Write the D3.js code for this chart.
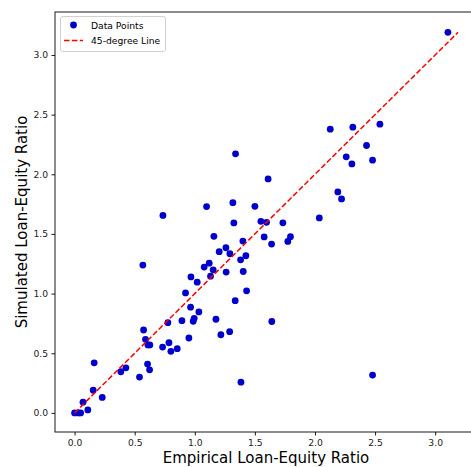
<!DOCTYPE html>
<html>
<head>
<meta charset="utf-8">
<script src="https://cdn.jsdelivr.net/npm/d3@7"></script>
<style>
  html, body { margin: 0; padding: 0; background: #fff; }
  svg { display: block; font-family: "DejaVu Sans", sans-serif; }
</style>
</head>
<body>
<svg id="chart" width="471" height="467"></svg>
<script>
// Empirical (x) and simulated (y) loan-equity ratios
const empirical = [
  0.00, 0.03, 0.05, 0.11, 0.07, 0.23, 0.155, 0.163, 0.385, 0.427,
  0.54, 0.574, 0.59, 0.61, 0.626, 0.607, 0.624, 0.732, 0.785, 0.801,
  0.854, 0.776, 0.893, 0.995, 0.987, 0.951, 1.034, 0.965, 1.176, 1.217,
  1.290, 1.336, 1.431, 0.923, 1.020, 0.968, 1.131, 1.153, 1.078, 1.120,
  1.261, 1.403, 0.568, 1.381, 1.425, 1.292, 1.203, 1.259, 1.400, 1.159,
  1.384, 1.641, 2.479, 0.735, 1.098, 1.317, 1.325, 1.339, 1.500, 1.550,
  1.597, 1.577, 1.639, 1.610, 1.733, 1.774, 1.796, 2.036, 2.190, 2.221,
  2.260, 2.307, 2.479, 2.429, 2.127, 2.315, 2.540, 3.106
];
const simulated = [
  0.00, 0.00, 0.00, 0.025, 0.09, 0.13, 0.19, 0.42, 0.345, 0.378,
  0.30, 0.695, 0.617, 0.57, 0.57, 0.409, 0.361, 0.552, 0.588, 0.516,
  0.538, 0.756, 0.773, 0.793, 0.768, 0.628, 0.846, 0.886, 0.785, 0.655,
  0.681, 0.941, 1.023, 1.006, 1.096, 1.140, 1.146, 1.199, 1.222, 1.255,
  1.180, 1.185, 1.239, 1.283, 1.317, 1.334, 1.351, 1.384, 1.440, 1.480,
  0.258, 0.766, 0.317, 1.655, 1.729, 1.762, 1.592, 2.171, 1.731, 1.606,
  1.597, 1.475, 1.415, 1.961, 1.593, 1.437, 1.477, 1.634, 1.852, 1.793,
  2.146, 2.087, 2.118, 2.241, 2.378, 2.395, 2.420, 3.190
];
const xTicks = [0.0, 0.5, 1.0, 1.5, 2.0, 2.5, 3.0];
const yTicks = [0.0, 0.5, 1.0, 1.5, 2.0, 2.5, 3.0];
const legendLabels = ["Data Points", "45-degree Line"];
const xLabel = "Empirical Loan-Equity Ratio";
const yLabel = "Simulated Loan-Equity Ratio";

const svg = d3.select("#chart");
const mLeft = 55, mTop = 12, mBottom = 432, plotW = 422;

const x = d3.scaleLinear().domain([-0.163, 3.348]).range([mLeft, mLeft + plotW]);
const y = d3.scaleLinear().domain([-0.16, 3.36]).range([mBottom, mTop]);

const points = empirical.map((e, i) => ({ x: e, y: simulated[i] }));
const lineMax = Math.max(d3.max(empirical), d3.max(simulated));

// axes
const xAxis = svg.append("g")
  .attr("transform", `translate(0,${mBottom})`)
  .call(d3.axisBottom(x).tickValues(xTicks).tickFormat(d3.format(".1f")).tickSizeOuter(0).tickSize(3.5).tickPadding(3.5));
const yAxis = svg.append("g")
  .attr("transform", `translate(${mLeft},0)`)
  .call(d3.axisLeft(y).tickValues(yTicks).tickFormat(d3.format(".1f")).tickSizeOuter(0).tickSize(3.5).tickPadding(3.5));
[xAxis, yAxis].forEach(g => {
  g.select(".domain").remove();
  g.selectAll(".tick line").attr("stroke", "#000").attr("stroke-width", 0.9);
  g.selectAll(".tick text").attr("fill", "#222").attr("font-size", 9.2)
    .attr("font-family", "DejaVu Sans, sans-serif");
});

// frame (spines)
svg.append("rect")
  .attr("x", mLeft).attr("y", mTop)
  .attr("width", plotW).attr("height", mBottom - mTop)
  .attr("fill", "none").attr("stroke", "#000").attr("stroke-width", 0.9);

// clip
svg.append("clipPath").attr("id", "clip").append("rect")
  .attr("x", mLeft).attr("y", mTop).attr("width", plotW).attr("height", mBottom - mTop);

const plot = svg.append("g").attr("clip-path", "url(#clip)");

plot.selectAll("circle.pt").data(points).enter().append("circle")
  .attr("class", "pt")
  .attr("cx", d => x(d.x)).attr("cy", d => y(d.y))
  .attr("r", 3.4)
  .attr("fill", "#0000cd");

plot.append("line")
  .attr("x1", x(0)).attr("y1", y(0))
  .attr("x2", x(lineMax)).attr("y2", y(lineMax))
  .attr("stroke", "#ff0000").attr("stroke-width", 1.5)
  .attr("stroke-dasharray", "5.5,2.4");

// legend
const lg = svg.append("g");
lg.append("rect")
  .attr("x", 60.5).attr("y", 16.5).attr("width", 105).attr("height", 35)
  .attr("rx", 2.5).attr("fill", "#fff").attr("fill-opacity", 0.8)
  .attr("stroke", "#ccc").attr("stroke-width", 0.9);
lg.append("circle").attr("cx", 73.5).attr("cy", 25).attr("r", 3.4).attr("fill", "#0000cd");
lg.append("line").attr("x1", 64).attr("x2", 83).attr("y1", 40.5).attr("y2", 40.5)
  .attr("stroke", "#ff0000").attr("stroke-width", 1.5).attr("stroke-dasharray", "5.5,2.4");
lg.selectAll("text").data(legendLabels).enter().append("text")
  .attr("x", 91).attr("y", (d, i) => 28.5 + i * 15.5)
  .attr("font-size", 9.2).attr("fill", "#000")
  .text(d => d);

// axis labels
svg.append("text")
  .attr("x", 266).attr("y", 463)
  .attr("text-anchor", "middle").attr("font-size", 15).attr("fill", "#000")
  .text(xLabel);
svg.append("text")
  .attr("transform", `translate(26.5,${(mTop + mBottom) / 2}) rotate(-90)`)
  .attr("text-anchor", "middle").attr("font-size", 15).attr("fill", "#000")
  .text(yLabel);
</script>
</body>
</html>
